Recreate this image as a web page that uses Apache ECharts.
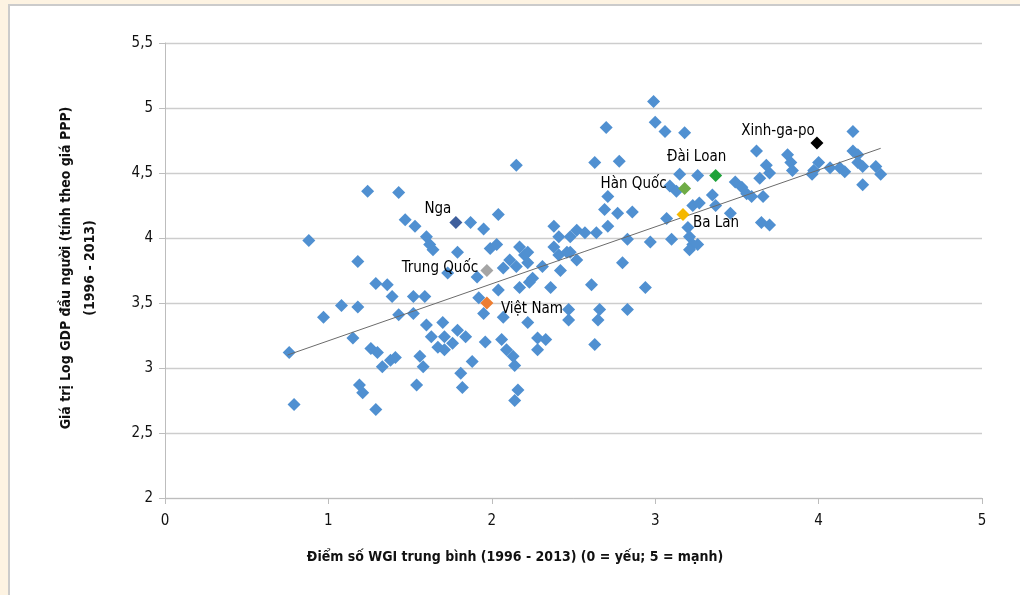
<!DOCTYPE html>
<html>
<head>
<meta charset="utf-8">
<script src="https://cdn.jsdelivr.net/npm/echarts@6/dist/echarts.min.js"></script>
<style>
  html, body { margin:0; padding:0; background:#fdf3e2; }
  #panel { position:absolute; left:8px; top:4px; width:1012px; height:591px; background:#fff; border-left:2px solid #cbcbcb; border-top:2px solid #cbcbcb; box-sizing:border-box; }
  #chart { position:absolute; left:0; top:0; width:1020px; height:595px; }
</style>
</head>
<body>
<div id="panel"></div>
<div id="chart"></div>
<script>
// WGI score (x) and log GDP per capita (y) for the unlabelled countries
const wgi = [0.76,0.79,0.88,0.97,1.08,1.18,1.18,1.15,1.19,1.21,1.24,1.29,1.36,1.39,1.29,1.26,1.30,1.33,1.38,1.41,
  1.43,1.47,1.53,1.43,1.52,1.52,1.59,1.60,1.62,1.64,1.54,1.56,1.58,1.60,1.70,1.63,1.71,1.76,1.79,1.84,
  1.67,1.71,1.81,1.82,1.88,1.87,1.95,1.79,1.73,1.91,1.92,1.95,1.99,2.03,2.04,2.07,1.96,2.06,2.09,2.13,
  2.14,2.11,2.15,2.20,2.22,2.25,2.31,2.41,2.46,2.52,2.42,2.36,2.61,2.80,2.94,2.07,2.22,2.04,2.17,2.23,
  2.47,2.47,2.66,2.65,2.83,2.28,2.33,2.28,2.63,2.16,2.14,2.99,3.00,3.06,2.70,3.18,2.15,2.63,2.78,2.71,
  2.69,2.77,2.86,2.38,2.41,2.48,2.52,2.57,2.64,2.71,3.07,2.83,2.97,3.10,2.17,2.22,2.38,2.48,3.15,3.26,
  3.09,3.13,3.35,3.49,3.53,3.56,3.59,3.66,3.23,3.27,3.46,3.20,3.21,3.23,3.21,3.26,4.21,3.62,3.68,3.70,
  3.64,3.81,3.83,3.84,3.97,4.00,4.07,4.13,4.16,4.21,4.24,4.24,4.27,4.35,4.38,4.27,3.37,3.65,3.70,3.96];
const gdp = [3.12,2.72,3.98,3.39,3.48,3.47,3.82,3.23,2.87,2.81,4.36,3.65,3.64,3.55,2.68,3.15,3.12,3.01,3.06,3.08,
  4.35,4.14,4.09,3.41,3.42,3.55,3.55,4.01,3.95,3.91,2.87,3.09,3.01,3.33,3.35,3.24,3.24,3.19,3.29,3.24,
  3.16,3.14,2.96,2.85,3.05,4.12,4.07,3.89,3.73,3.70,3.54,3.42,3.92,3.95,4.18,3.77,3.20,3.22,3.14,3.09,
  3.02,3.83,3.78,3.87,3.81,3.69,3.78,3.87,3.89,3.83,3.75,3.62,3.64,3.81,3.62,3.39,3.35,3.60,3.62,3.66,
  3.45,3.37,3.45,3.37,3.45,3.23,3.22,3.14,3.18,2.83,2.75,5.05,4.89,4.82,4.85,4.81,4.56,4.58,4.59,4.32,
  4.22,4.19,4.20,4.09,4.01,4.01,4.06,4.04,4.04,4.09,4.15,3.99,3.97,3.99,3.93,3.89,3.93,3.89,4.49,4.48,
  4.40,4.36,4.33,4.43,4.39,4.34,4.32,4.32,4.25,4.27,4.19,4.08,4.01,3.95,3.91,3.95,4.82,4.67,4.56,4.50,
  4.46,4.64,4.58,4.52,4.52,4.58,4.54,4.54,4.51,4.67,4.64,4.58,4.55,4.55,4.49,4.41,4.25,4.12,4.10,4.49];

// Labelled countries
const countries = ['Nga','Trung Quốc','Việt Nam','Hàn Quốc','Đài Loan','Ba Lan','Xinh-ga-po'];
const countryWgi = [1.78, 1.97, 1.97, 3.18, 3.37, 3.17, 3.99];
const countryGdp = [4.12, 3.75, 3.50, 4.38, 4.48, 4.18, 4.73];

// Trend line endpoints
const trendWgi = [0.75, 4.38];
const trendGdp = [3.10, 4.69];

// Axis ticks
const xTicks = [0,1,2,3,4,5];
const yTicks = [2,2.5,3,3.5,4,4.5,5,5.5];

// styles (kept separate from data)
const countryColors = ['#3f5f9c','#a5a5a5','#ed7d31','#6fac46','#1fa33a','#f5b800','#000000'];
const labelOffsets = [[-18,-13],[-47,-2],[45,6],[-51,-4],[-19,-18],[33,9],[-39,-12]];

const FONT = "'Liberation Sans Narrow','DejaVu Sans Condensed','Roboto Condensed',sans-serif";

const chart = echarts.init(document.getElementById('chart'), null, {renderer:'canvas'});
const option = {
  backgroundColor: 'transparent',
  animation: false,
  grid: { left:165, right:38, top:43, bottom:97 },
  xAxis: {
    type:'value', min:xTicks[0], max:xTicks[xTicks.length-1], interval:1,
    axisLine:{ show:true, onZero:false, lineStyle:{ color:'#bdbdbd', width:1 } },
    axisTick:{ show:true, length:6, lineStyle:{ color:'#bdbdbd' } },
    splitLine:{ show:false },
    axisLabel:{ margin:16, color:'#111', fontSize:15, fontFamily:FONT }
  },
  yAxis: {
    type:'value', min:yTicks[0], max:yTicks[yTicks.length-1], interval:0.5,
    axisLine:{ show:true, onZero:false, lineStyle:{ color:'#bdbdbd', width:1 } },
    axisTick:{ show:true, length:6, lineStyle:{ color:'#bdbdbd' } },
    splitLine:{ show:true, lineStyle:{ color:'#cdcdcd', width:1.3 } },
    axisLabel:{ margin:12, color:'#111', fontSize:15, fontFamily:FONT,
      formatter: v => String(v).replace('.', ',') }
  },
  graphic: [
    { type:'text', x:66, y:268, rotation:Math.PI/2,
      style:{ text:'Giá trị Log GDP đầu người (tính theo giá PPP)', textAlign:'center', textVerticalAlign:'middle',
        font:"bold 14px " + FONT, fill:'#111' } },
    { type:'text', x:90, y:268, rotation:Math.PI/2,
      style:{ text:'(1996 - 2013)', textAlign:'center', textVerticalAlign:'middle',
        font:"bold 14px " + FONT, fill:'#111' } },
    { type:'text', x:515, y:557,
      style:{ text:'Điểm số WGI trung bình (1996 - 2013) (0 = yếu; 5 = mạnh)', textAlign:'center', textVerticalAlign:'middle',
        font:"bold 14px " + FONT, fill:'#111' } }
  ],
  series: [
    {
      type:'scatter', symbol:'diamond', symbolSize:13, z:3,
      itemStyle:{ color:'#5090d1', opacity:1 },
      data: wgi.map((x,i) => [x, gdp[i]])
    },
    {
      type:'line', z:4, symbol:'none', silent:true,
      lineStyle:{ color:'#6b6b6b', width:1 },
      data: trendWgi.map((x,i) => [x, trendGdp[i]])
    },
    {
      type:'scatter', symbol:'diamond', symbolSize:13, z:5,
      data: countries.map((c,i) => ({
        name:c, value:[countryWgi[i], countryGdp[i]],
        itemStyle:{ color:countryColors[i], opacity:1 },
        label:{ show:true, position:'inside', offset:labelOffsets[i], formatter:c,
          color:'#000', opacity:1, fontSize:15, fontFamily:FONT }
      }))
    }
  ]
};
chart.setOption(option);
</script>
</body>
</html>
